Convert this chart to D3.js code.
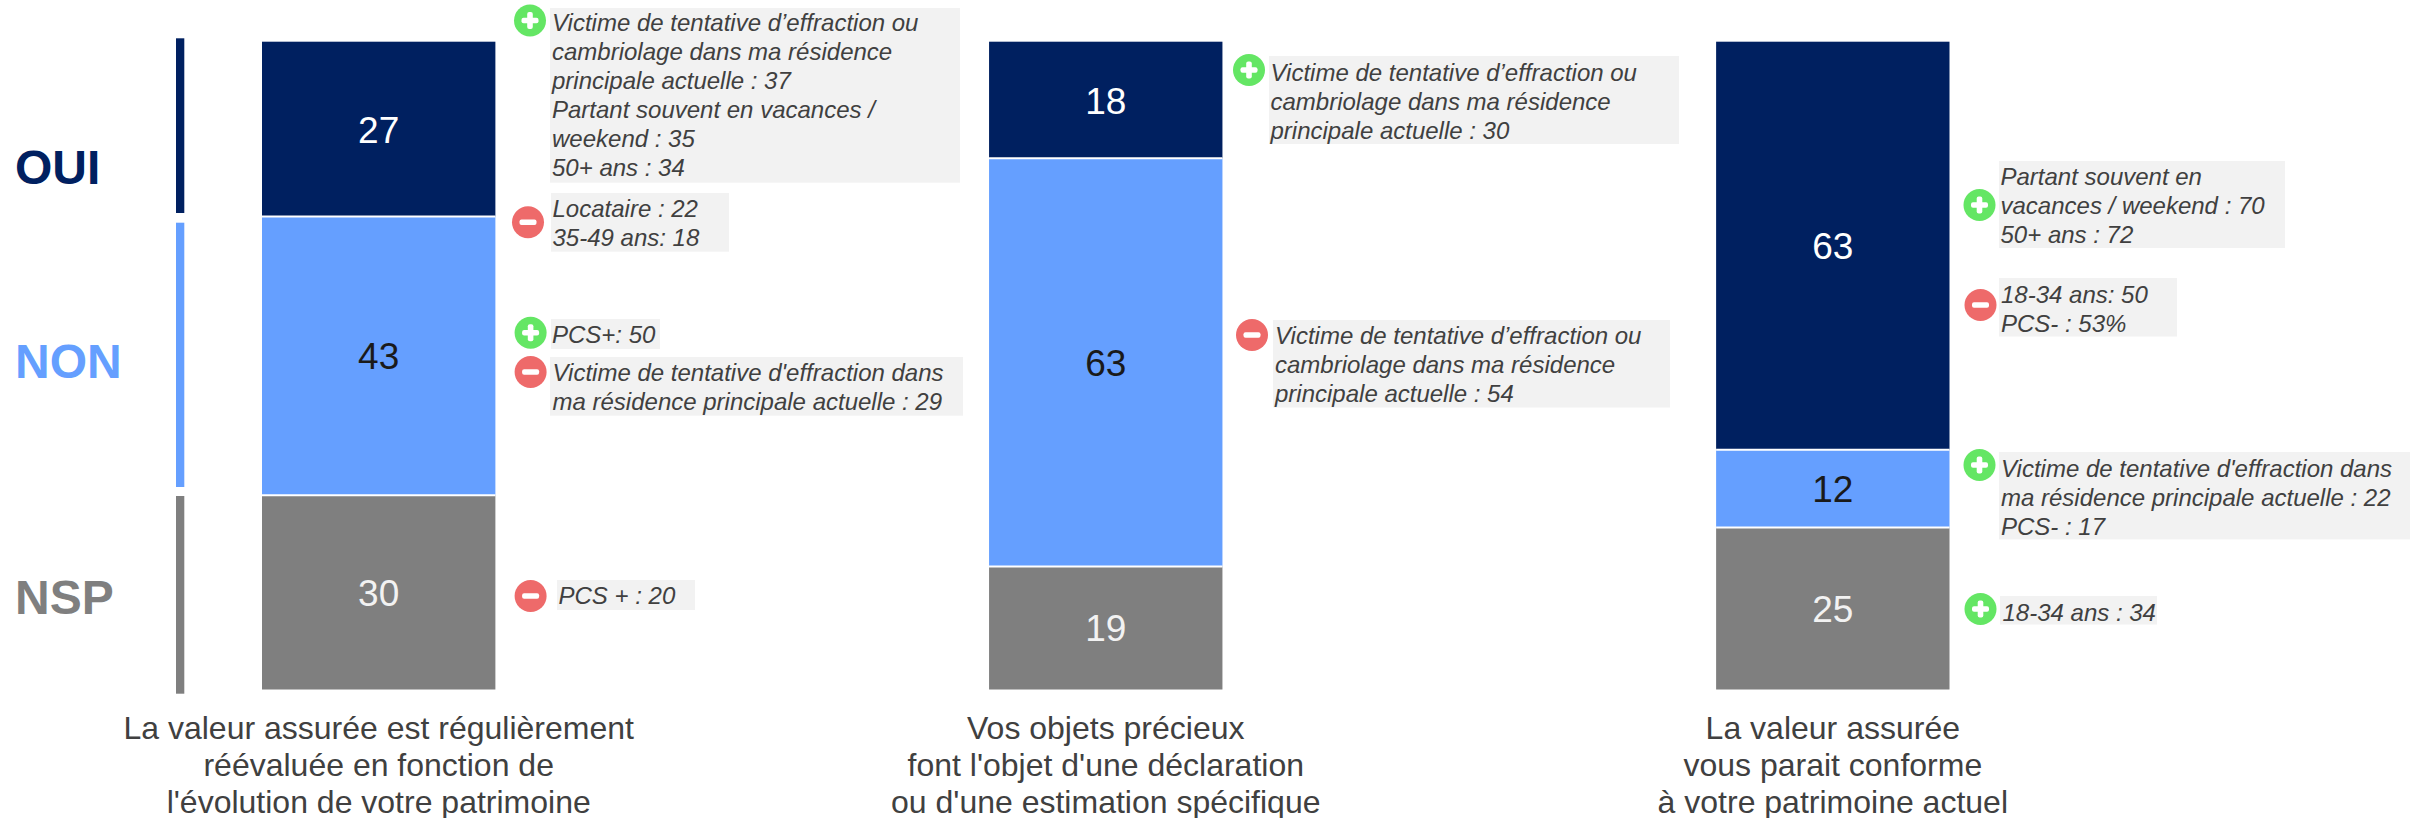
<!DOCTYPE html>
<html><head><meta charset="utf-8">
<script src="https://cdn.jsdelivr.net/npm/d3@7/dist/d3.min.js"></script>
<style>html,body{margin:0;padding:0;background:#fff}svg{display:block}text{font-family:"Liberation Sans",Arial,sans-serif}</style>
</head><body><svg id="c" width="2422" height="818"></svg>
<script>
// --- data ---
const categories = ["OUI","NON","NSP"];
const questions = ["q1","q2","q3"];
const oui = [27,18,63];
const non = [43,63,12];
const nsp = [30,19,25];
const captions = [
 ["La valeur assurée est régulièrement","réévaluée en fonction de","l'évolution de votre patrimoine"],
 ["Vos objets précieux","font l'objet d'une déclaration","ou d'une estimation spécifique"],
 ["La valeur assurée","vous parait conforme","à votre patrimoine actuel"]];
const noteSigns = ["+","-","+","-","-","+","-","+","-","+","+"];
const noteTexts = [
 ["Victime de tentative d’effraction ou","cambriolage dans ma résidence","principale actuelle : 37","Partant souvent en vacances /","weekend : 35","50+ ans : 34"],
 ["Locataire : 22","35-49 ans: 18"],
 ["PCS+: 50"],
 ["Victime de tentative d'effraction dans","ma résidence principale actuelle : 29"],
 ["PCS + : 20"],
 ["Victime de tentative d’effraction ou","cambriolage dans ma résidence","principale actuelle : 30"],
 ["Victime de tentative d’effraction ou","cambriolage dans ma résidence","principale actuelle : 54"],
 ["Partant souvent en","vacances / weekend : 70","50+ ans : 72"],
 ["18-34 ans: 50","PCS- : 53%"],
 ["Victime de tentative d'effraction dans","ma résidence principale actuelle : 22","PCS- : 17"],
 ["18-34 ans : 34"]];

// --- layout ---
const colors = {OUI:"#002060",NON:"#659FFF",NSP:"#7F7F7F"};
const valueColors = {OUI:"#ffffff",NON:"#1a1a1a",NSP:"#f2f2f2"};
const green="#64E664", red="#EE6A6A";
// icon cx, icon cy, box x0, x1, y0, y1, text x, first baseline
const noteBoxes = [
 [530,20.5,550,960,8,182.7,552,31],
 [528,222.3,551,729,193,251.7,552.5,217],
 [530.6,332.7,551,660,319,349,552,343],
 [530.6,372,550,963,357,415.7,552.5,381],
 [530.6,596,557,695,580,610,558.5,603.5],
 [1249,70,1269,1679,56,144,1270.5,80.5],
 [1252,335,1273,1670,320,407.5,1275,343.5],
 [1979.5,205,1999,2285,161,248,2000.5,184.5],
 [1980.5,305,1999,2177,278,336.5,2001,303],
 [1979.5,465,1999,2410,452,539.4,2001,476.5],
 [1980.5,609,2000,2157,596,624.5,2002.5,620.5]];
const bracket = {OUI:[38.3,213],NON:[222.7,487],NSP:[496,693.7]};
const labelBase = {OUI:183.5,NON:378,NSP:613.5};
const captionBase = [739,776,812.5];

const svg = d3.select("#c");
const x = d3.scaleBand().domain(questions).range([262,1949.5]).paddingInner(0.679).paddingOuter(0);
const y = d3.scaleLinear().domain([0,100]).range([41.7,689.5]);
const rows = questions.map((q,i)=>({q,OUI:oui[i],NON:non[i],NSP:nsp[i]}));
const stack = d3.stack().keys(categories)(rows);

// left brackets and labels
svg.selectAll("rect.br").data(categories).join("rect").attr("class","br")
 .attr("x",176).attr("width",8.3)
 .attr("y",d=>bracket[d][0]).attr("height",d=>bracket[d][1]-bracket[d][0])
 .attr("fill",d=>colors[d]);
svg.selectAll("text.cat").data(categories).join("text").attr("class","cat")
 .attr("x",15).attr("y",d=>labelBase[d]).attr("font-size",48).attr("font-weight",700)
 .attr("fill",d=>colors[d]).text(d=>d);

// bars
stack.forEach(s=>{
 const g=svg.append("g");
 g.selectAll("rect").data(s).join("rect")
  .attr("x",d=>x(d.data.q)).attr("width",x.bandwidth())
  .attr("y",d=>y(d[0])).attr("height",d=>y(d[1])-y(d[0]))
  .attr("fill",colors[s.key]);
 g.selectAll("text").data(s).join("text")
  .attr("x",d=>x(d.data.q)+x.bandwidth()/2).attr("y",d=>(y(d[0])+y(d[1]))/2+13.5)
  .attr("text-anchor","middle").attr("font-size",37).attr("fill",valueColors[s.key])
  .text(d=>d[1]-d[0]);
});
// white separators between stacked segments
stack.slice(0,2).forEach(s=>{
 svg.append("g").selectAll("line").data(s).join("line")
  .attr("x1",d=>x(d.data.q)).attr("x2",d=>x(d.data.q)+x.bandwidth())
  .attr("y1",d=>y(d[1])).attr("y2",d=>y(d[1]))
  .attr("stroke","#fff").attr("stroke-width",2);
});

// captions
captions.forEach((lines,i)=>{
 svg.append("g").selectAll("text").data(lines).join("text")
  .attr("x",x(questions[i])+x.bandwidth()/2).attr("y",(d,j)=>captionBase[j])
  .attr("text-anchor","middle").attr("font-size",32).attr("fill","#404040").text(d=>d);
});

// notes
noteTexts.forEach((lines,i)=>{
 const [cx,cy,x0,x1,y0,y1,tx,ty]=noteBoxes[i];
 const g=svg.append("g");
 g.append("rect").attr("x",x0).attr("y",y0).attr("width",x1-x0).attr("height",y1-y0).attr("fill","#F2F2F2");
 g.selectAll("text").data(lines).join("text")
  .attr("x",tx).attr("y",(d,j)=>ty+j*29).attr("font-size",24).attr("font-style","italic")
  .attr("fill","#404040").text(d=>d);
 const plus=noteSigns[i]==="+";
 g.append("circle").attr("cx",cx).attr("cy",cy).attr("r",16).attr("fill",plus?green:red);
 g.append("rect").attr("x",cx-8.5).attr("y",cy-2.8).attr("width",17).attr("height",5.6).attr("rx",2).attr("fill","#fff");
 if(plus) g.append("rect").attr("x",cx-2.8).attr("y",cy-8.5).attr("width",5.6).attr("height",17).attr("rx",2).attr("fill","#fff");
});
</script></body></html>
